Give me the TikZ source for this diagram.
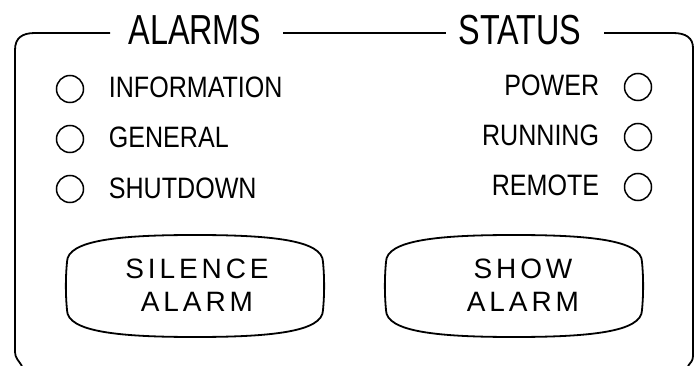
\documentclass[tikz,border=0pt]{standalone}
\usepackage{fontspec}
\setmainfont{Liberation Sans}
\newfontfamily\cadfont[FakeStretch=0.85]{Liberation Sans}
\newfontfamily\headfont[FakeStretch=0.77]{Liberation Sans}
\newfontfamily\btnfont[LetterSpace=14]{Liberation Sans}
\begin{document}
\begin{tikzpicture}[x=1pt,y=-1pt,line width=1.8pt,
  lamp/.style={circle,draw,minimum size=27pt,inner sep=0pt,line width=1.5pt},
  lbl/.style={font=\cadfont\fontsize{29.5}{29.5}\selectfont,inner sep=0pt},
  head/.style={font=\headfont\fontsize{42}{42}\selectfont,inner sep=0pt},
  btntext/.style={font=\btnfont\fontsize{28}{33}\selectfont,align=center,inner sep=0pt},
  button/.pic={
    \draw[line width=1.8pt] (-128,-24) .. controls (-128,-46) and (-75,-51) .. (0,-51)
      .. controls (75,-51) and (128,-46) .. (128,-24)
      .. controls (129.5,-8) and (129.5,8) .. (128,24)
      .. controls (128,46) and (75,51) .. (0,51)
      .. controls (-75,51) and (-128,46) .. (-128,24)
      .. controls (-129.5,8) and (-129.5,-8) .. cycle;
  }]
\useasboundingbox (0,0) rectangle (696,366);
\fill[white] (0,0) rectangle (696,366);
% frame
\draw (110,33) -- (35,33) .. controls (22,33) and (15,38) .. (15,50) -- (15,352)
      .. controls (15,358) and (19,361) .. (22,366);
\draw (283,33) -- (446,33);
\draw (604,33) -- (673,33) .. controls (686,33) and (693,38) .. (693,48) -- (693,356)
      .. controls (693,361) and (690,363) .. (688,366);
% headings
\node[head,anchor=base] (alarms) at (195,45) {ALARMS};
\node[head,anchor=base] (status) at (520,45) {STATUS};
% left lamps
\node[lamp] (l1) at (70,89) {};
\node[lamp] (l2) at (70,139) {};
\node[lamp] (l3) at (70,189) {};
\node[lbl,anchor=base west] (information) at (108,98) {INFORMATION};
\node[lbl,anchor=base west] (general) at (108,148) {GENERAL};
\node[lbl,anchor=base west] (shutdown) at (108,199) {SHUTDOWN};
% right lamps
\node[lamp] (r1) at (638,87) {};
\node[lamp] (r2) at (638,137) {};
\node[lamp] (r3) at (638,187) {};
\node[lbl,anchor=base east] (power) at (600,96) {POWER};
\node[lbl,anchor=base east] (running) at (600,146) {RUNNING};
\node[lbl,anchor=base east] (remote) at (600,196) {REMOTE};
% buttons
\pic at (195,286) {button};
\pic at (514,286) {button};
\node[btntext] (silence) at (197,285) {SILENCE\\ALARM};
\node[btntext] (show) at (523,285) {SHOW\\ALARM};
\end{tikzpicture}
\end{document}
